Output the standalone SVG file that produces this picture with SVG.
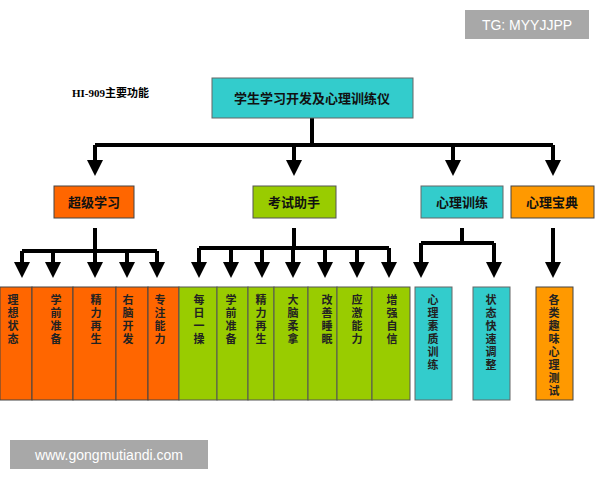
<svg xmlns="http://www.w3.org/2000/svg" width="600" height="480" viewBox="0 0 600 480">
<defs>
<marker id="ah" markerWidth="4" markerHeight="4" refX="2" refY="2" orient="auto" markerUnits="strokeWidth"><path d="M0,0 L4,2 L0,4 z" fill="#000"/></marker>
<style>
.t{font-family:"Noto Sans CJK SC","Liberation Serif",serif;font-weight:bold;font-size:13px;fill:#111;text-anchor:middle}
.v{font-family:"Noto Sans CJK SC",serif;font-weight:bold;font-size:11px;fill:#222;writing-mode:vertical-rl;letter-spacing:2px}
.c{stroke:#000;stroke-width:4;fill:none}
.a{stroke:#000;stroke-width:4;fill:none;marker-end:url(#ah)}
.or{fill:#FF6600;stroke:#444;stroke-width:1}
.gr{fill:#99CC00;stroke:#555;stroke-width:1}
.cy{fill:#33CCCC;stroke:#666;stroke-width:1}
.o2{fill:#FF9900;stroke:#444;stroke-width:1}
</style>
</defs>
<rect width="600" height="480" fill="#fff"/>
<text x="72" y="97" style="font-family:'Liberation Serif','Noto Sans CJK SC',serif;font-weight:bold;font-size:11px">HI-909主要功能</text>
<g id="connectors">
<path class="c" d="M312,118 V145 M95,145 H553"/>
<path class="a" d="M95,145 V168"/><path class="a" d="M294,145 V168"/><path class="a" d="M453,145 V168"/><path class="a" d="M553,145 V168"/>
<path class="c" d="M95,228 V251 M22,251 H157"/>
<path class="a" d="M22,251 V270"/><path class="a" d="M53,251 V270"/><path class="a" d="M95,251 V270"/><path class="a" d="M127,251 V270"/><path class="a" d="M157,251 V270"/>
<path class="c" d="M294,228 V248 M199,248 H389"/>
<path class="a" d="M199,248 V270"/><path class="a" d="M231,248 V270"/><path class="a" d="M262,248 V270"/><path class="a" d="M293,248 V270"/><path class="a" d="M325,248 V270"/><path class="a" d="M357,248 V270"/><path class="a" d="M389,248 V270"/>
<path class="c" d="M462,228 V243 M421,243 H494"/>
<path class="a" d="M421,243 V270"/><path class="a" d="M494,243 V270"/>
<path class="a" d="M553,228 V270"/>
</g>
<g id="root"><rect x="212" y="78" width="201" height="40" class="cy"/><text class="t" x="312" y="103">学生学习开发及心理训练仪</text></g>
<g id="n1"><rect x="54" y="186" width="80" height="32" class="or"/><text class="t" x="94" y="207">超级学习</text></g>
<g id="n2"><rect x="253" y="186" width="83" height="32" class="gr"/><text class="t" x="294" y="207">考试助手</text></g>
<g id="n3"><rect x="421" y="186" width="82" height="32" class="cy"/><text class="t" x="462" y="207">心理训练</text></g>
<g id="n4"><rect x="511" y="186" width="83" height="32" class="o2"/><text class="t" x="552" y="207">心理宝典</text></g>
<g id="orange-cols">
<rect x="0" y="287" width="32" height="113" class="or"/><rect x="32" y="287" width="41" height="113" class="or"/><rect x="73" y="287" width="43" height="113" class="or"/><rect x="116" y="287" width="32" height="113" class="or"/><rect x="148" y="287" width="31" height="113" class="or"/>
<text class="v" x="13" y="294">理想状态</text>
<text class="v" x="56" y="294">学前准备</text>
<text class="v" x="96" y="294">精力再生</text>
<text class="v" x="128" y="294">右脑开发</text>
<text class="v" x="160" y="294">专注能力</text>
</g>
<g id="green-cols">
<rect x="179" y="287" width="38" height="113" class="gr"/><rect x="217" y="287" width="31" height="113" class="gr"/><rect x="248" y="287" width="26" height="113" class="gr"/><rect x="274" y="287" width="34" height="113" class="gr"/><rect x="308" y="287" width="29" height="113" class="gr"/><rect x="337" y="287" width="35" height="113" class="gr"/><rect x="372" y="287" width="38" height="113" class="gr"/>
<text class="v" x="199" y="294">每日一操</text>
<text class="v" x="231" y="294">学前准备</text>
<text class="v" x="261" y="294">精力再生</text>
<text class="v" x="293" y="294">大脑柔拿</text>
<text class="v" x="327" y="294">改善睡眠</text>
<text class="v" x="357" y="294">应激能力</text>
<text class="v" x="392" y="294">增强自信</text>
</g>
<g id="cyan-cols">
<rect x="415" y="287" width="37" height="113" class="cy"/><rect x="473" y="287" width="37" height="113" class="cy"/>
<text class="v" x="433" y="294">心理素质训练</text>
<text class="v" x="491" y="294">状态快速调整</text>
</g>
<g id="orange-last">
<rect x="536" y="287" width="37" height="113" class="o2"/>
<text class="v" x="554" y="294">各类趣味心理测试</text>
</g>
<g id="wm1"><rect x="465" y="10" width="124" height="29" fill="#999" opacity="0.85"/><text x="527" y="30" style="font-family:'Liberation Sans',sans-serif;font-size:14px;fill:#fff;text-anchor:middle">TG: MYYJJPP</text></g>
<g id="wm2"><rect x="10" y="440" width="198" height="29" fill="#999" opacity="0.85"/><text x="109" y="460" style="font-family:'Liberation Sans',sans-serif;font-size:14px;fill:#fff;text-anchor:middle">www.gongmutiandi.com</text></g>
</svg>
